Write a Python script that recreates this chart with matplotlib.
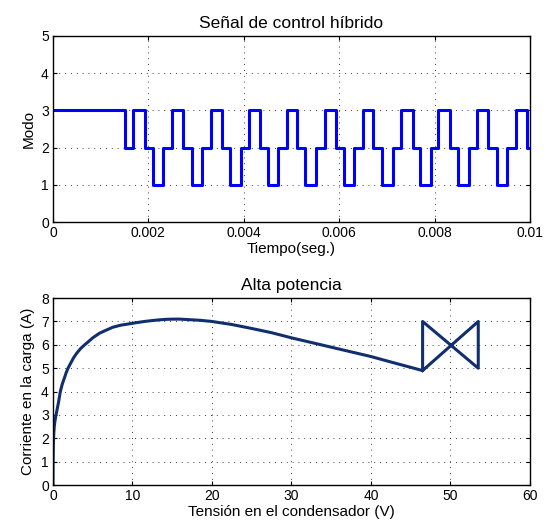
import numpy as np
import matplotlib
matplotlib.use('Agg')
from matplotlib import pyplot as plt

plt.rcParams['font.family'] = ['Liberation Sans', 'DejaVu Sans']

# señal de control: instantes de cambio (s) y modo a partir de ese instante
t_cambio = [0, 1.51e-3, 1.68e-3, 1.93e-3, 2.10e-3, 2.31e-3,
            2.50e-3, 2.73e-3, 2.91e-3, 3.12e-3,
            3.31e-3, 3.55e-3, 3.71e-3, 3.94e-3,
            4.11e-3, 4.34e-3, 4.51e-3, 4.72e-3,
            4.91e-3, 5.11e-3, 5.28e-3, 5.51e-3,
            5.70e-3, 5.93e-3, 6.10e-3, 6.32e-3,
            6.49e-3, 6.72e-3, 6.89e-3, 7.12e-3,
            7.29e-3, 7.54e-3, 7.69e-3, 7.92e-3,
            8.08e-3, 8.32e-3, 8.50e-3, 8.73e-3,
            8.90e-3, 9.13e-3, 9.30e-3, 9.52e-3,
            9.71e-3, 9.94e-3, 10e-3]
modo = [3, 2, 3, 2, 1, 2,
        3, 2, 1, 2,
        3, 2, 1, 2,
        3, 2, 1, 2,
        3, 2, 1, 2,
        3, 2, 1, 2,
        3, 2, 1, 2,
        3, 2, 1, 2,
        3, 2, 1, 2,
        3, 2, 1, 2,
        3, 2, 2]

# trayectoria corriente-tension
v_cond = [0, 0.01, 0.03, 0.06, 0.1, 0.16, 0.25, 0.35, 0.5, 0.7, 0.92,
          1.15, 1.4, 1.65, 1.89, 2.2, 2.6, 3.0, 3.5, 3.98, 4.5, 5.0,
          5.87, 6.7, 7.5, 8.5, 9.6, 10.5, 11.5, 12.5, 13.4, 14.2, 15,
          16, 17, 18.5, 20, 22.5, 25, 27.5, 30, 32.5, 35, 37.5, 40, 43,
          46.5,
          46.5, 53.5, 53.5, 46.5]
i_carga = [0, 0.8, 1.4, 1.85, 2.2, 2.5, 2.75, 2.95, 3.2, 3.55, 4.0,
           4.3, 4.55, 4.8, 5.0, 5.2, 5.45, 5.65, 5.85, 6.0, 6.15, 6.3,
           6.5, 6.63, 6.75, 6.84, 6.9, 6.95, 7.0, 7.04, 7.07, 7.09, 7.1,
           7.1, 7.08, 7.05, 7.0, 6.87, 6.7, 6.52, 6.3, 6.1, 5.9, 5.7, 5.5, 5.22,
           4.9,
           7.0, 5.0, 7.0, 4.9]

fig = plt.figure(figsize=(5.52, 5.29), dpi=100)

ax1 = fig.add_axes([0.096, 0.580, 0.864, 0.352])
ax1.step(t_cambio, modo, where='post', color='#0000ff', lw=2.2)
ax1.set_xlim(0, 0.01)
ax1.set_ylim(0, 5)
ax1.set_xticks([0, 0.002, 0.004, 0.006, 0.008, 0.01])
ax1.set_xticklabels(['0', '0.002', '0.004', '0.006', '0.008', '0.01'])
ax1.set_yticks([0, 1, 2, 3, 4, 5])
ax1.set_title('Señal de control híbrido', fontsize=12.5, pad=6)
ax1.set_xlabel('Tiempo(seg.)', fontsize=11, labelpad=1)
ax1.set_ylabel('Modo', fontsize=11, labelpad=4)

ax2 = fig.add_axes([0.096, 0.083, 0.864, 0.3535])
ax2.plot(v_cond, i_carga, color='#112f6e', lw=2.2)
ax2.set_xlim(0, 60)
ax2.set_ylim(0, 8)
ax2.set_xticks(range(0, 61, 10))
ax2.set_yticks(range(0, 9))
ax2.set_title('Alta potencia', fontsize=12.5, pad=6)
ax2.set_xlabel('Tensión en el condensador (V)', fontsize=11, labelpad=1)
ax2.set_ylabel('Corriente en la carga (A)', fontsize=11, labelpad=4)

for ax in (ax1, ax2):
    ax.grid(True, linestyle=(0, (1, 6)), color='black', lw=0.6)
    ax.tick_params(direction='in', top=True, right=True, labelsize=10, length=3, pad=3)
    for s in ax.spines.values():
        s.set_linewidth(1.0)

fig.savefig('out.png', dpi=100)
